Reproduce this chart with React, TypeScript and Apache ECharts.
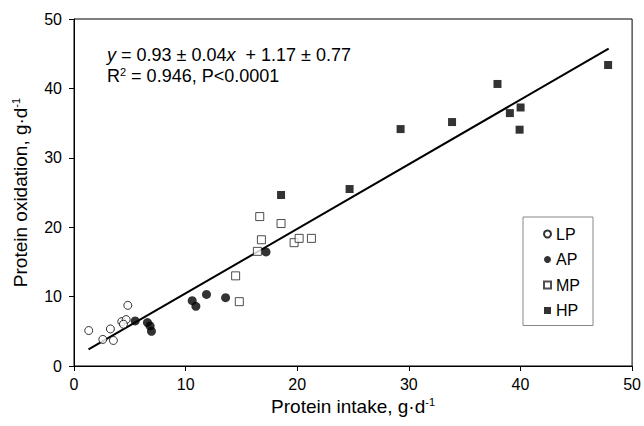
import React, { useEffect, useRef } from "react";
import * as echarts from "echarts";

const lpX = [1.32, 2.58, 3.26, 3.53, 4.28, 4.67, 4.82, 4.43];
const lpY = [5.11, 3.83, 5.34, 3.68, 6.4, 6.69, 8.74, 6.02];
const apX = [5.48, 6.58, 6.82, 6.94, 10.59, 10.92, 11.87, 13.58, 17.2];
const apY = [6.49, 6.26, 5.78, 5.01, 9.41, 8.6, 10.31, 9.84, 16.43];
const mpX = [14.81, 14.48, 16.43, 16.79, 16.64, 18.55, 19.72, 20.17, 21.27];
const mpY = [9.27, 12.99, 16.52, 18.19, 21.53, 20.53, 17.77, 18.39, 18.39];
const hpX = [18.55, 24.69, 29.26, 33.87, 37.94, 39.05, 40.01, 39.92, 47.85];
const hpY = [24.64, 25.5, 34.14, 35.15, 40.64, 36.44, 37.25, 34.05, 43.37];
const slope = 0.93;
const intercept = 1.17;
const fitRange = [1.3, 47.9];
const tickValues = [0, 10, 20, 30, 40, 50];

const zip = (xs: number[], ys: number[]) => xs.map((x, i) => [x, ys[i]]);

export default function App() {
  const ref = useRef<HTMLDivElement>(null);
  useEffect(() => {
    if (!ref.current) return;
    const chart = echarts.init(ref.current, null, { renderer: "svg" });
    const font = "Liberation Sans, Arial, sans-serif";
    const axisCommon = {
      type: "value" as const,
      min: tickValues[0],
      max: tickValues[tickValues.length - 1],
      interval: 10,
      splitLine: { show: false },
      axisLine: { show: true, lineStyle: { color: "#000", width: 1 } },
      axisTick: { show: true, length: 5, lineStyle: { color: "#000" } },
      axisLabel: { color: "#000", fontSize: 16, fontFamily: font },
      nameLocation: "middle" as const,
      nameTextStyle: {
        color: "#000",
        fontSize: 19,
        fontFamily: font,
        rich: {
          n: { fontSize: 19, fontFamily: font, color: "#000" },
          sup: { fontSize: 11, fontFamily: font, color: "#000", verticalAlign: "top", padding: [0, 0, 9, 0] },
        },
      },
    };
    chart.setOption({
      animation: false,
      textStyle: { fontFamily: font },
      grid: { left: 74, right: 11, top: 19, bottom: 60, show: true, borderColor: "#000", borderWidth: 1 },
      xAxis: { ...axisCommon, name: "{n|Protein intake, g·d}{sup|-1}", nameGap: 23, axisLabel: { ...axisCommon.axisLabel, margin: 10 } },
      yAxis: { ...axisCommon, name: "{n|Protein oxidation, g·d}{sup|-1}", nameGap: 44, axisLabel: { ...axisCommon.axisLabel, margin: 12 } },
      legend: {
        orient: "vertical",
        left: 523,
        top: 217,
        padding: [9, 13, 7, 20],
        itemGap: 9.5,
        itemWidth: 7,
        itemHeight: 7,
        borderColor: "#888",
        borderWidth: 1,
        backgroundColor: "#fff",
        textStyle: { color: "#000", fontSize: 16, fontFamily: font, padding: [0, 0, 0, 0] },
        data: ["LP", "AP", "MP", "HP"],
      },
      graphic: [
        {
          type: "text",
          left: 107,
          top: 46,
          style: {
            text: "{i|y} = 0.93 ± 0.04{i|x}  + 1.17 ± 0.77",
            fontSize: 18,
            fontFamily: font,
            fill: "#000",
            rich: { i: { fontStyle: "italic", fontSize: 18, fontFamily: font, fill: "#000" } },
          },
        },
        {
          type: "text",
          left: 107,
          top: 66,
          style: {
            text: "R{s|2} = 0.946, P<0.0001",
            fontSize: 18,
            fontFamily: font,
            fill: "#000",
            rich: { s: { fontSize: 11, fontFamily: font, fill: "#000", verticalAlign: "top", padding: [0, 0, 8, 0] } },
          },
        },
      ],
      series: [
        {
          name: "fit",
          type: "line",
          data: fitRange.map((x) => [x, slope * x + intercept]),
          showSymbol: false,
          symbol: "none",
          lineStyle: { color: "#000", width: 2 },
          z: 1,
          silent: true,
        },
        {
          name: "LP",
          type: "scatter",
          data: zip(lpX, lpY),
          symbol: "circle",
          symbolSize: 8,
          itemStyle: { color: "#fff", borderColor: "#000", borderWidth: 1 },
          z: 3,
        },
        {
          name: "AP",
          type: "scatter",
          data: zip(apX, apY),
          symbol: "circle",
          symbolSize: 9,
          itemStyle: { color: "#000", borderColor: "#000", borderWidth: 0 },
          z: 3,
        },
        {
          name: "MP",
          type: "scatter",
          data: zip(mpX, mpY),
          symbol: "rect",
          symbolSize: 8,
          itemStyle: { color: "#fff", borderColor: "#222", borderWidth: 1 },
          z: 3,
        },
        {
          name: "HP",
          type: "scatter",
          data: zip(hpX, hpY),
          symbol: "rect",
          symbolSize: 8,
          itemStyle: { color: "#000", borderColor: "#000", borderWidth: 0 },
          z: 3,
        },
      ],
    });
    return () => chart.dispose();
  }, []);
  return <div ref={ref} style={{ width: 644, height: 426, position: "absolute", left: 0, top: 0, background: "#fff" }} />;
}
